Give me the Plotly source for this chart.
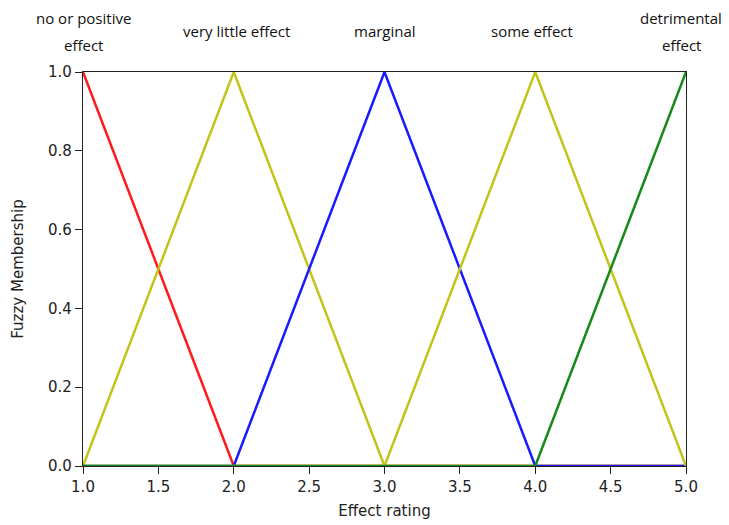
import plotly.graph_objects as go

x_vals = [1.0, 2.0, 3.0, 4.0, 5.0]
series_names = ["no or positive effect", "very little effect", "marginal", "some effect", "detrimental effect"]
mf_none = [1.0, 0.0, 0.0, 0.0, 0.0]
mf_little = [0.0, 1.0, 0.0, 0.0, 0.0]
mf_marginal = [0.0, 0.0, 1.0, 0.0, 0.0]
mf_some = [0.0, 0.0, 0.0, 1.0, 0.0]
mf_detr = [0.0, 0.0, 0.0, 0.0, 1.0]
colors = ["#ff1a1a", "#c3c31a", "#1a1aff", "#c3c31a", "#168a16"]
top_labels = [["no or positive", "effect"], ["very little effect"], ["marginal"], ["some effect"], ["detrimental", "effect"]]
label_x = [1.0, 2.02, 3.0, 3.98, 4.97]
tick_vals_x = [1.0, 1.5, 2.0, 2.5, 3.0, 3.5, 4.0, 4.5, 5.0]
tick_vals_y = [0.0, 0.2, 0.4, 0.6, 0.8, 1.0]

fig = go.Figure()
for name, ys, c in zip(series_names, [mf_none, mf_little, mf_marginal, mf_some, mf_detr], colors):
    fig.add_trace(go.Scatter(x=x_vals, y=ys, mode="lines", name=name, cliponaxis=False,
                             line=dict(color=c, width=2.5), showlegend=False))

label_font = dict(family="Open Sans, Liberation Sans, sans-serif", size=15, color="#111")
for lx, lines in zip(label_x, top_labels):
    if len(lines) == 1:
        shifts = [41]
    else:
        shifts = [54, 27]
    for txt, sh in zip(lines, shifts):
        fig.add_annotation(x=lx, y=1.0, xref="x", yref="paper", text=txt, showarrow=False,
                           yanchor="middle", yshift=sh, font=label_font, align="center")

tick_font = dict(family="DejaVu Sans, sans-serif", size=15, color="#222")
title_font = dict(family="DejaVu Sans, sans-serif", size=15, color="#222")
axis_common = dict(showgrid=False, zeroline=False, showline=True, linecolor="#222", linewidth=1.2,
                   mirror=True, ticks="outside", ticklen=7, tickcolor="#222", layer="below traces",
                   tickfont=tick_font, automargin=False)
fig.update_xaxes(range=[1.0, 5.0], tickvals=tick_vals_x, ticktext=[f"{v:.1f}" for v in tick_vals_x],
                 title=dict(text="Effect rating", font=title_font, standoff=10),
                 **axis_common)
fig.update_yaxes(range=[0.0, 1.0], tickvals=tick_vals_y, ticktext=[f"{v:.1f}" for v in tick_vals_y],
                 title=dict(text="Fuzzy Membership", font=title_font, standoff=20),
                 **axis_common)
fig.update_layout(width=729, height=525, margin=dict(l=83, r=43, t=72, b=59),
                  plot_bgcolor="white", paper_bgcolor="white")
fig.write_html("out.html")
